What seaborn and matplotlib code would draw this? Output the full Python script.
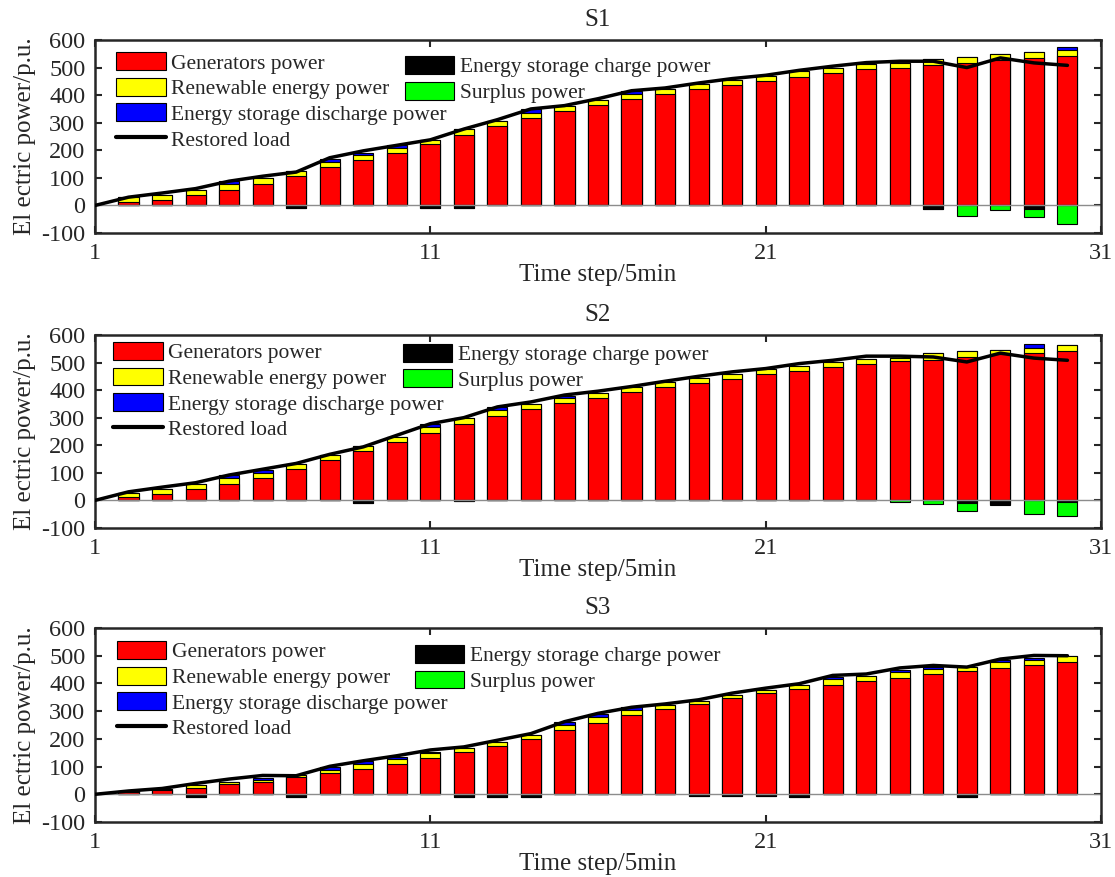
import matplotlib
matplotlib.use("Agg")
import matplotlib.pyplot as plt
import seaborn as sns
import numpy as np
from matplotlib.patches import Patch
from matplotlib.lines import Line2D

# Time steps
bar_steps = list(range(2, 31))
line_steps = list(range(1, 31))

# --- S1 ---
gen1 = [12, 21, 39, 56, 79, 108, 138, 163, 189, 222, 257, 288, 317, 341, 363,
        385, 404, 422, 437, 451, 466, 480, 493, 499, 511, 517, 527, 535, 543]
ren1 = [17, 18, 18, 22, 19, 18, 21, 20, 21, 16, 20, 19, 18, 19, 20,
        20, 18, 18, 17, 18, 21, 20, 19, 19, 20, 20, 21, 22, 20]
dis1 = [0, 0, 0, 9, 0, 0, 11, 8, 8, 0, 0, 0, 13, 0, 0,
        10, 0, 0, 0, 0, 0, 0, 0, 0, 0, 0, 0, 0, 10]
chg1 = [0, 0, 0, 0, 0, 10, 0, 0, 0, 10, 10, 0, 0, 0, 0,
        0, 0, 0, 0, 0, 0, 0, 0, 0, 12, 0, 0, 12, 0]
sur1 = [0, 0, 0, 0, 0, 0, 0, 0, 0, 0, 0, 0, 0, 0, 0,
        0, 0, 0, 0, 0, 0, 0, 0, 0, 0, 40, 16, 31, 68]
load1 = [0, 30, 45, 61, 88, 106, 121, 173, 198, 218, 238, 277, 311, 350, 362,
         387, 416, 426, 444, 460, 472, 490, 505, 518, 523, 523, 500, 535, 517, 508]

# --- S2 ---
gen2 = [12, 23, 40, 59, 82, 113, 145, 178, 212, 243, 278, 307, 330, 352, 373,
        392, 410, 425, 441, 457, 470, 484, 494, 506, 510, 521, 530, 534, 542]
ren2 = [16, 17, 19, 21, 18, 18, 20, 19, 19, 22, 19, 20, 19, 20, 16,
        18, 19, 20, 19, 18, 19, 19, 20, 10, 24, 21, 17, 20, 22]
dis2 = [0, 0, 0, 12, 11, 0, 0, 0, 0, 11, 0, 10, 0, 7, 0,
        0, 0, 0, 0, 0, 0, 0, 0, 0, 0, 0, 0, 13, 0]
chg2 = [0, 0, 0, 0, 0, 0, 0, 11, 0, 0, 3, 0, 0, 0, 0,
        0, 0, 0, 0, 0, 0, 0, 0, 0, 0, 10, 12, 0, 7]
sur2 = [0, 0, 0, 0, 0, 0, 0, 0, 0, 0, 0, 0, 0, 0, 0,
        0, 0, 0, 0, 0, 0, 0, 0, 5, 14, 30, 3, 48, 48]
load2 = [0, 31, 48, 64, 92, 113, 134, 167, 194, 236, 278, 300, 339, 357, 382,
         396, 413, 432, 450, 466, 478, 496, 508, 523, 523, 520, 502, 534, 516, 508]

# --- S3 ---
gen3 = [8, 15, 24, 36, 44, 61, 78, 91, 109, 130, 154, 176, 199, 232, 258,
        285, 307, 326, 347, 366, 381, 395, 410, 419, 434, 446, 456, 468, 478]
ren3 = [3, 4, 9, 9, 8, 8, 9, 18, 18, 18, 14, 13, 14, 18, 22,
        19, 15, 12, 11, 11, 14, 21, 18, 21, 18, 13, 20, 18, 20]
dis3 = [0, 0, 0, 0, 6, 0, 12, 10, 9, 6, 0, 0, 0, 11, 10,
        10, 0, 0, 0, 0, 0, 9, 0, 10, 7, 0, 10, 7, 0]
chg3 = [0, 0, 10, 0, 0, 10, 0, 0, 0, 0, 10, 10, 10, 0, 0,
        0, 0, 7, 7, 5, 10, 0, 0, 0, 0, 10, 0, 0, 0]
sur3 = [0] * 29
load3 = [0, 12, 21, 39, 55, 68, 67, 101, 121, 139, 160, 171, 195, 219, 262,
         292, 314, 326, 341, 365, 383, 399, 429, 434, 456, 465, 459, 488, 501, 500]

titles = ["S1", "S2", "S3"]
labels_main = ["Generators power", "Renewable energy power",
               "Energy storage discharge power", "Restored load"]
labels_neg = ["Energy storage charge power", "Surplus power"]

sns.set_style("ticks")
plt.rcParams["font.family"] = ["Liberation Serif", "DejaVu Serif"]
plt.rcParams["axes.unicode_minus"] = False

frame_col = "#262626"

fig = plt.figure(figsize=(11.15, 8.77), dpi=100)
positions = [(0.0852, 0.7343, 0.9022, 0.2201),
             (0.0852, 0.3980, 0.9022, 0.2201),
             (0.0852, 0.0627, 0.9022, 0.2212)]
leg1_pos = [(0.021, 0.937), (0.018, 0.964), (0.0215, 0.933)]
leg2_pos = [(0.308, 0.917), (0.306, 0.954), (0.318, 0.913)]

scenarios = [(gen1, ren1, dis1, chg1, sur1, load1),
             (gen2, ren2, dis2, chg2, sur2, load2),
             (gen3, ren3, dis3, chg3, sur3, load3)]

bar_kw = dict(native_scale=True, width=0.6, edgecolor="black", linewidth=0.8,
              saturation=1, errorbar=None)

for i, (gen, ren, dis, chg, sur, load) in enumerate(scenarios):
    ax = fig.add_axes(positions[i])
    gen = np.array(gen)
    ren = np.array(ren)
    dis = np.array(dis)
    chg = np.array(chg)
    sur = np.array(sur)

    # stacked bars drawn back to front
    sns.barplot(x=bar_steps, y=gen + ren + dis, color="#0000ff", ax=ax, **bar_kw)
    sns.barplot(x=bar_steps, y=gen + ren, color="#ffff00", ax=ax, **bar_kw)
    sns.barplot(x=bar_steps, y=gen, color="#ff0000", ax=ax, **bar_kw)
    sns.barplot(x=bar_steps, y=-(chg + sur), color="#00ff00", ax=ax, **bar_kw)
    sns.barplot(x=bar_steps, y=-chg, color="#000000", ax=ax, **bar_kw)

    ax.axhline(0, color="#8c8c8c", linewidth=1, zorder=1.5)
    sns.lineplot(x=line_steps, y=load, color="black", linewidth=2.5,
                 ax=ax, legend=False, zorder=5)

    ax.set_xlim(1, 31)
    ax.set_ylim(-100, 600)
    ax.set_xticks([1, 11, 21, 31])
    ax.set_xticklabels(["1", "11", "21", "31"])
    ax.set_yticks(range(-100, 601, 100))
    ax.tick_params(direction="in", length=5, width=1.5, color=frame_col,
                   labelsize=17.5, pad=7, top=True, right=True)
    for sp in ax.spines.values():
        sp.set_visible(True)
        sp.set_linewidth(1.8)
        sp.set_color(frame_col)

    ax.set_title(titles[i], fontsize=18, pad=10)
    ax.set_xlabel("Time step/5min", fontsize=18, labelpad=0)
    ax.set_ylabel("El ectric power/p.u.", fontsize=18, labelpad=4)

    h_main = [Patch(facecolor="#ff0000", edgecolor="black", linewidth=0.8),
              Patch(facecolor="#ffff00", edgecolor="black", linewidth=0.8),
              Patch(facecolor="#0000ff", edgecolor="black", linewidth=0.8),
              Line2D([0], [0], color="black", linewidth=3)]
    h_neg = [Patch(facecolor="#000000", edgecolor="black", linewidth=0.8),
             Patch(facecolor="#00ff00", edgecolor="black", linewidth=0.8)]
    leg_kw = dict(loc="upper left", frameon=False, fontsize=15.5, borderpad=0,
                  borderaxespad=0, handlelength=2.3, handleheight=0.9,
                  handletextpad=0.25, labelspacing=0.2)
    leg1 = ax.legend(h_main, labels_main, bbox_to_anchor=leg1_pos[i], **leg_kw)
    ax.add_artist(leg1)
    ax.legend(h_neg, labels_neg, bbox_to_anchor=leg2_pos[i], **leg_kw)

fig.savefig("out.png", dpi=100)
